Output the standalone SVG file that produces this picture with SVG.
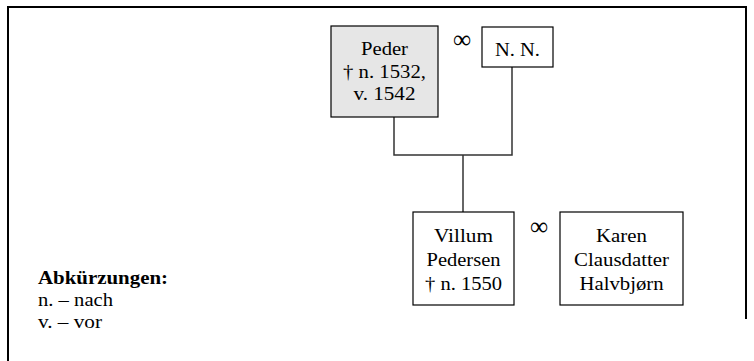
<svg xmlns="http://www.w3.org/2000/svg" width="754" height="361" viewBox="0 0 754 361">
<style>
text{font-family:"Liberation Serif","Times New Roman",serif;font-size:18px;fill:#000}
.c{text-anchor:middle}
.b{font-weight:bold}
.inf{font-size:26px}
.box{fill:#fff;stroke:#000;stroke-width:1.2}
.gray{fill:#e6e6e6}
.ln{fill:none;stroke:#333;stroke-width:1.5}
.frame{fill:none;stroke:#000;stroke-width:2}
</style>
<rect width="754" height="361" fill="#fff"/>
<path class="frame" d="M8 361V7H746V319"/>
<g id="connectors">
<path class="ln" d="M394 117V155H512V67"/>
<path class="ln" d="M463 155V212"/>
</g>
<g id="peder">
<rect class="box gray" x="331" y="26" width="107" height="91"/>
<text class="c" x="384.5" y="55" textLength="47" lengthAdjust="spacingAndGlyphs">Peder</text>
<text class="c" x="384.5" y="78" textLength="83" lengthAdjust="spacingAndGlyphs">† n. 1532,</text>
<text class="c" x="384.5" y="100" textLength="62" lengthAdjust="spacingAndGlyphs">v. 1542</text>
</g>
<g id="marriage1"><text class="c inf" x="462" y="48" textLength="18" lengthAdjust="spacingAndGlyphs">∞</text></g>
<g id="nn">
<rect class="box" x="482" y="27" width="71" height="40"/>
<text class="c" x="517.5" y="56" textLength="45" lengthAdjust="spacingAndGlyphs">N. N.</text>
</g>
<g id="villum">
<rect class="box" x="413" y="212" width="101" height="93"/>
<text class="c" x="463.5" y="242" textLength="59" lengthAdjust="spacingAndGlyphs">Villum</text>
<text class="c" x="463.5" y="266" textLength="74" lengthAdjust="spacingAndGlyphs">Pedersen</text>
<text class="c" x="463.5" y="290" textLength="77" lengthAdjust="spacingAndGlyphs">† n. 1550</text>
</g>
<g id="marriage2"><text class="c inf" x="539" y="235" textLength="18" lengthAdjust="spacingAndGlyphs">∞</text></g>
<g id="karen">
<rect class="box" x="560" y="212" width="123" height="93"/>
<text class="c" x="621.5" y="242" textLength="51" lengthAdjust="spacingAndGlyphs">Karen</text>
<text class="c" x="621.5" y="266" textLength="95" lengthAdjust="spacingAndGlyphs">Clausdatter</text>
<text class="c" x="621.5" y="290" textLength="84" lengthAdjust="spacingAndGlyphs">Halvbjørn</text>
</g>
<g id="legend">
<text class="b" x="38" y="284" textLength="130" lengthAdjust="spacingAndGlyphs">Abkürzungen:</text>
<text x="38" y="306" textLength="75" lengthAdjust="spacingAndGlyphs">n. – nach</text>
<text x="38" y="328" textLength="64" lengthAdjust="spacingAndGlyphs">v. – vor</text>
</g>
</svg>
